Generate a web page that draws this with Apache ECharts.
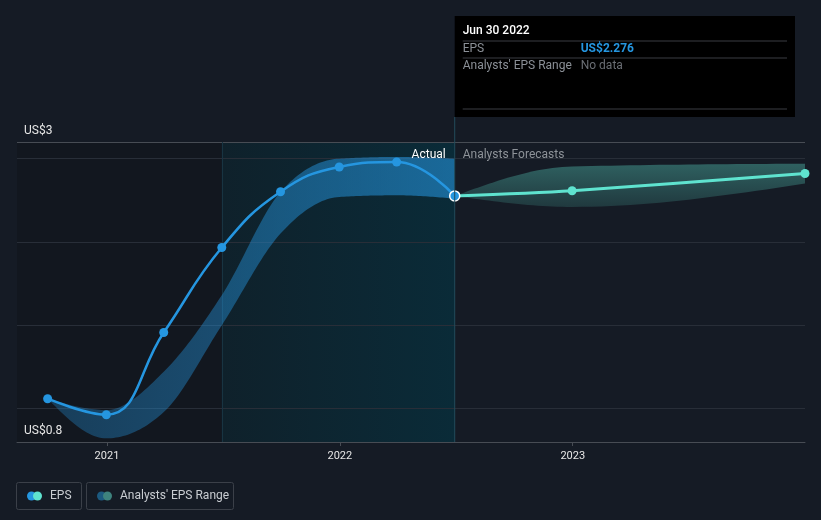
<!DOCTYPE html>
<html><head><meta charset="utf-8">
<script src="https://cdn.jsdelivr.net/npm/echarts@6/dist/echarts.min.js"></script>
<style>html,body{margin:0;padding:0;background:#151b25;}#c{width:821px;height:520px;}</style>
</head><body><div id="c"></div>
<script>
// ---- data ----
const actualDates = ['2020-09-30','2020-12-31','2021-03-31','2021-06-30','2021-09-30','2021-12-31','2022-03-31','2022-06-30'];
const actualEps   = [1.058, 0.962, 1.456, 1.966, 2.301, 2.450, 2.480, 2.276];
const pastLow     = [1.058, 0.820, 0.978, 1.500, 2.050, 2.270, 2.280, 2.260];
const pastHigh    = [1.058, 0.990, 1.220, 1.680, 2.300, 2.500, 2.510, 2.500];
const forecastDates = ['2022-06-30','2022-12-31','2023-12-31'];
const forecastEps   = [2.276, 2.307, 2.411];
const forecastLow   = [2.276, 2.210, 2.350];
const forecastHigh  = [2.276, 2.453, 2.470];
const yearTicks = ['2021-01-01','2022-01-01','2023-01-01'];
const gridValues = [1.0, 1.5, 2.0, 2.5];
const yMin = 0.798, yMax = 2.6;
const yLabelTop = 'US$3', yLabelBottom = 'US$0.8';
const xMin = '2020-08-13', xMax = '2023-12-31';
const shadeStart = '2021-06-30', shadeEnd = '2022-06-30';
const tooltipDate = 'Jun 30 2022';

const ts = d => { const p = d.split('-').map(Number); return Date.UTC(p[0], p[1]-1, p[2]); };
const pair = (dates, vals) => dates.map((d,i)=>[ts(d), vals[i]]);
const triple = (dates, lo, hi) => dates.map((d,i)=>[ts(d), lo[i], hi[i]]);

const BLUE = '#2596e0', TEAL = '#5fe3cf';
const FONT = 'Roboto';

// monotone-x cubic interpolation of pixel points (Fritsch–Carlson style), sampled
function monoSample(pts, n) {
  const N = pts.length, sign = v => v < 0 ? -1 : 1;
  const t = new Array(N).fill(0);
  for (let i = 1; i < N-1; i++) {
    const h0 = pts[i][0]-pts[i-1][0], h1 = pts[i+1][0]-pts[i][0];
    const s0 = (pts[i][1]-pts[i-1][1])/h0, s1 = (pts[i+1][1]-pts[i][1])/h1;
    const p = (s0*h1 + s1*h0)/(h0+h1);
    t[i] = (sign(s0)+sign(s1)) * Math.min(Math.abs(s0), Math.abs(s1), 0.5*Math.abs(p)) || 0;
  }
  if (N > 2) {
    const h = pts[1][0]-pts[0][0];
    t[0] = (3*(pts[1][1]-pts[0][1])/h - t[1])/2;
    const h2 = pts[N-1][0]-pts[N-2][0];
    t[N-1] = (3*(pts[N-1][1]-pts[N-2][1])/h2 - t[N-2])/2;
  } else {
    t[0] = t[1] = (pts[1][1]-pts[0][1])/(pts[1][0]-pts[0][0]);
  }
  const out = [pts[0]];
  for (let i = 0; i < N-1; i++) {
    const [x0,y0] = pts[i], [x3,y3] = pts[i+1], dx = (x3-x0)/3;
    const x1 = x0+dx, y1 = y0+dx*t[i], x2 = x3-dx, y2 = y3-dx*t[i+1];
    for (let k = 1; k <= n; k++) {
      const s = k/n, u = 1-s;
      out.push([u*u*u*x0 + 3*u*u*s*x1 + 3*u*s*s*x2 + s*s*s*x3,
                u*u*u*y0 + 3*u*u*s*y1 + 3*u*s*s*y2 + s*s*s*y3]);
    }
  }
  return out;
}
function bandRenderer(fill) {
  return function (params, api) {
    if (params.dataIndexInside !== 0) return null;
    const len = params.dataInsideLength;
    const lo = [], hi = [];
    for (let i = 0; i < len; i++) {
      const x = api.value(0, i);
      lo.push(api.coord([x, api.value(1, i)]));
      hi.push(api.coord([x, api.value(2, i)]));
    }
    const up = monoSample(hi, 24);
    const dn = monoSample(lo, 24).reverse();
    return {type: 'polygon', shape: {points: up.concat(dn)}, style: {fill: fill}, silent: true};
  };
}

const chart = echarts.init(document.getElementById('c'), null, {renderer:'canvas'});
const option = {
  backgroundColor: '#151b25',
  animation: false,
  textStyle: {fontFamily: FONT},
  grid: {left: 17, right: 16, top: 142, bottom: 78},
  xAxis: {
    type: 'value', min: ts(xMin), max: ts(xMax),
    axisLine: {show: true, lineStyle: {color: '#474c54', width: 1}},
    axisTick: {show: true, customValues: yearTicks.map(ts), length: 4, lineStyle: {color: '#474c54'}},
    axisLabel: {customValues: yearTicks.map(ts), color: '#e6e6e6', fontSize: 11, margin: 9,
      formatter: v => String(new Date(v).getUTCFullYear())},
    splitLine: {show: false}
  },
  yAxis: {
    type: 'value', min: yMin, max: yMax,
    axisLine: {show: false}, axisTick: {show: false}, axisLabel: {show: false}, splitLine: {show: false}
  },
  series: [
    {
      name: 'pastRange', type: 'custom', z: 2, silent: true,
      data: triple(actualDates, pastLow, pastHigh),
      encode: {x: 0, y: [1, 2]},
      renderItem: bandRenderer(new echarts.graphic.LinearGradient(0,0,1,0,[{offset:0,color:'rgba(37,150,224,0.30)'},{offset:1,color:'rgba(37,150,224,0.58)'}])),
      markArea: {
        silent: true, z: 1,
        data: [
          [{xAxis: ts(xMin), itemStyle: {color: '#12171f'}}, {xAxis: ts(shadeStart)}],
          [{xAxis: ts(shadeStart), itemStyle: {color: new echarts.graphic.LinearGradient(0,0,1,0,[{offset:0,color:'#0f212b'},{offset:1,color:'#0a2b38'}])}}, {xAxis: ts(shadeEnd)}]
        ]
      },
      markLine: {
        silent: true, symbol: 'none', label: {show: false}, z: 1,
        data: gridValues.map(v => ({yAxis: v, lineStyle: {color: '#282e38', width: 1, type: 'solid'}}))
          .concat([{yAxis: yMax, lineStyle: {color: '#474c54', width: 1, type: 'solid'}},
                   {xAxis: ts(shadeStart), lineStyle: {color: '#183442', width: 1, type: 'solid'}}])
      }
    },
    {
      name: 'forecastRange', type: 'custom', z: 2, silent: true,
      data: triple(forecastDates, forecastLow, forecastHigh),
      encode: {x: 0, y: [1, 2]},
      renderItem: bandRenderer(new echarts.graphic.LinearGradient(0,0,0,1,[{offset:0,color:'rgba(95,227,207,0.35)'},{offset:1,color:'rgba(95,227,207,0.15)'}]))
    },
    {
      name: 'EPS', type: 'line', smooth: 0.45, z: 4,
      data: pair(actualDates, actualEps).map((p,i,a)=> i===a.length-1
        ? {value: p, symbolSize: 10, itemStyle: {color: BLUE, borderColor: '#ffffff', borderWidth: 1.5}}
        : {value: p}),
      symbol: 'circle', symbolSize: 9, showSymbol: true,
      lineStyle: {color: BLUE, width: 2.5}, itemStyle: {color: BLUE}
    },
    {
      name: 'EPS forecast', type: 'line', smooth: 0.3, z: 3,
      data: pair(forecastDates, forecastEps).map((p,i)=> i===0 ? {value: p, symbolSize: 0} : {value: p}),
      symbol: 'circle', symbolSize: 9, showSymbol: true,
      lineStyle: {color: TEAL, width: 3}, itemStyle: {color: TEAL}
    }
  ]
};
chart.setOption(option);

// ---- overlay texts, tooltip box & legend, positioned via the chart's own scales ----
const px = chart.convertToPixel({xAxisIndex: 0}, ts(shadeEnd));
const pyTop = chart.convertToPixel({yAxisIndex: 0}, yMax);
const pyBot = chart.convertToPixel({yAxisIndex: 0}, yMin);
const lastEps = actualEps[actualEps.length - 1];
const boxTop = 16, boxBottom = 117, boxRight = 795;
const gray = '#8b9097';
const g = [
  {type:'line', shape:{x1:px, y1:boxBottom, x2:px, y2:pyBot}, style:{stroke:'#234c5b', lineWidth:1}, z: 5},
  {type:'rect', shape:{x:px, y:boxTop, width:boxRight-px, height:boxBottom-boxTop}, style:{fill:'#000000'}, z: 10},
  {type:'text', x:px+8, y:31, style:{text:tooltipDate, fill:'#ffffff', font:'500 12px '+FONT, verticalAlign:'middle'}, z: 11},
  {type:'line', shape:{x1:px+8, y1:41, x2:boxRight-8, y2:41}, style:{stroke:'#3a3d42', lineWidth:1}, z: 11},
  {type:'text', x:px+8, y:48.5, style:{text:'EPS', fill:gray, font:'12px '+FONT, verticalAlign:'middle'}, z: 11},
  {type:'text', x:px+126, y:48.5, style:{text:'US$'+lastEps.toFixed(3), fill:BLUE, font:'bold 12px '+FONT, verticalAlign:'middle'}, z: 11},
  {type:'line', shape:{x1:px+8, y1:58, x2:boxRight-8, y2:58}, style:{stroke:'#3a3d42', lineWidth:1}, z: 11},
  {type:'text', x:px+8, y:66, style:{text:"Analysts' EPS Range", fill:gray, font:'12px '+FONT, verticalAlign:'middle'}, z: 11},
  {type:'text', x:px+126, y:66, style:{text:'No data', fill:'#6a6e74', font:'12px '+FONT, verticalAlign:'middle'}, z: 11},
  {type:'line', shape:{x1:px+8, y1:109, x2:boxRight-8, y2:109}, style:{stroke:'#3a3d42', lineWidth:1}, z: 11},
  {type:'text', x:px-9, y:pyTop+12.5, style:{text:'Actual', fill:'#ffffff', font:'12px '+FONT, align:'right', verticalAlign:'middle'}, z: 11},
  {type:'text', x:px+8, y:pyTop+12.5, style:{text:'Analysts Forecasts', fill:'#8e9399', font:'12px '+FONT, verticalAlign:'middle'}, z: 11},
  {type:'text', x:24, y:pyTop-11.5, style:{text:yLabelTop, fill:'#e6e6e6', font:'12px '+FONT, verticalAlign:'middle'}, z: 11},
  {type:'text', x:24, y:pyBot-11.5, style:{text:yLabelBottom, fill:'#e6e6e6', font:'12px '+FONT, verticalAlign:'middle'}, z: 11},
  // legend
  {type:'rect', shape:{x:16.5, y:482.5, width:65, height:27, r:2}, style:{fill:'none', stroke:'#3b4049', lineWidth:1}, z: 11},
  {type:'circle', shape:{cx:31.5, cy:496, r:4.5}, style:{fill:BLUE}, z: 11},
  {type:'circle', shape:{cx:37.5, cy:496, r:4.5}, style:{fill:TEAL}, z: 12},
  {type:'text', x:50, y:496, style:{text:'EPS', fill:'#c9cdd2', font:'12px '+FONT, verticalAlign:'middle'}, z: 11},
  {type:'rect', shape:{x:86.5, y:482.5, width:147, height:27, r:2}, style:{fill:'none', stroke:'#3b4049', lineWidth:1}, z: 11},
  {type:'circle', shape:{cx:101.5, cy:496, r:4.5}, style:{fill:'#1c5a80'}, z: 11},
  {type:'circle', shape:{cx:107.5, cy:496, r:4.5}, style:{fill:'#3e837e'}, z: 12},
  {type:'text', x:120, y:496, style:{text:"Analysts' EPS Range", fill:'#c9cdd2', font:'12px '+FONT, verticalAlign:'middle'}, z: 11}
];
chart.setOption({graphic: g});
</script></body></html>
